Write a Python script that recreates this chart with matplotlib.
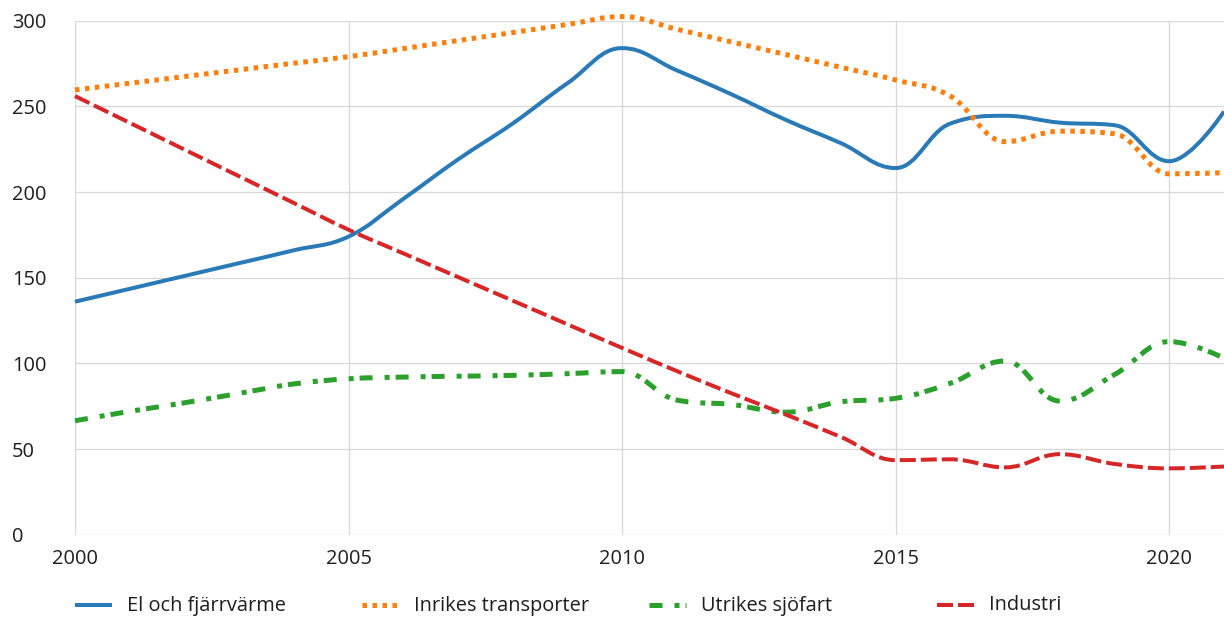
import matplotlib
matplotlib.use("Agg")
import matplotlib.pyplot as plt
from matplotlib.path import Path
from matplotlib.patches import PathPatch
from matplotlib.lines import Line2D

plt.rcParams['font.family'] = ['Open Sans', 'DejaVu Sans']

years = list(range(2000, 2022))
el_fjarrvarme = [136, 143.5, 151, 158.5, 166, 174, 196, 219, 240, 263.5, 284,
                 271, 257, 242, 228.5, 214, 240, 244.5, 240.5, 239, 218, 247]
inrikes_transporter = [259.6, 263.5, 267.4, 271.3, 275.2, 279, 283.7, 288.4, 293.1, 297.8, 302.4,
                       295, 287.6, 280.2, 272.8, 265.4, 256, 229.4, 235.5, 234, 210.6, 211.3]
utrikes_sjofart = [66.5, 72, 77, 82.5, 88, 91, 92, 92.5, 93, 94, 95.2,
                   78.6, 76, 71.5, 77.6, 79.6, 88.4, 101.4, 78, 93.5, 112.7, 103]
industri = [256, 240.4, 224.8, 209.2, 193.6, 178, 164.2, 150.4, 136.6, 122.8, 109,
            95.5, 82.5, 70, 57, 43.5, 44, 39.3, 47, 41.3, 38.7, 39.8]

series_names = ["El och fjärrvärme", "Inrikes transporter", "Utrikes sjöfart", "Industri"]
x_ticks = [2000, 2005, 2010, 2015, 2020]
y_ticks = [0, 50, 100, 150, 200, 250, 300]

PX = 0.72  # points per pixel at dpi 100
styles = [
    dict(color='#2a7ab8', lw=4.0 * PX, ls='-'),
    dict(color='#ff7f0e', lw=5.0 * PX, ls=(0, (0.9, 1.1))),
    dict(color='#2ca02c', lw=5.0 * PX, ls=(0, (2.6, 2.4, 1.0, 1.2))),
    dict(color='#d62728', lw=4.0 * PX, ls=(0, (4.0, 1.25))),
]


def spline_path(xs, ys, smoothing=1.5):
    """Bezier path with spline-style control points through the data points."""
    n = len(xs)
    denom = smoothing + 1
    left = [(xs[i], ys[i]) for i in range(n)]
    right = [(xs[i], ys[i]) for i in range(n)]
    for i in range(1, n - 1):
        px, py = xs[i], ys[i]
        lx, ly = xs[i - 1], ys[i - 1]
        nx, ny = xs[i + 1], ys[i + 1]
        lcx = (smoothing * px + lx) / denom
        lcy = (smoothing * py + ly) / denom
        rcx = (smoothing * px + nx) / denom
        rcy = (smoothing * py + ny) / denom
        corr = 0
        if rcx != lcx:
            corr = ((rcy - lcy) * (rcx - px)) / (rcx - lcx) + py - rcy
        lcy += corr
        rcy += corr
        if lcy > ly and lcy > py:
            lcy = max(ly, py); rcy = 2 * py - lcy
        elif lcy < ly and lcy < py:
            lcy = min(ly, py); rcy = 2 * py - lcy
        if rcy > ny and rcy > py:
            rcy = max(ny, py); lcy = 2 * py - rcy
        elif rcy < ny and rcy < py:
            rcy = min(ny, py); lcy = 2 * py - rcy
        left[i] = (lcx, lcy)
        right[i] = (rcx, rcy)
    verts = [(xs[0], ys[0])]
    codes = [Path.MOVETO]
    for i in range(1, n):
        verts += [right[i - 1], left[i], (xs[i], ys[i])]
        codes += [Path.CURVE4] * 3
    return Path(verts, codes)


W, H = 1224, 618
fig = plt.figure(figsize=(W / 100, H / 100), dpi=100)
ax = fig.add_axes([75 / W, 1 - 534.7 / H, (W - 75) / W, (534.7 - 20.7) / H])
ax.set_xlim(2000, 2021)
ax.set_ylim(0, 300)

for s in ax.spines.values():
    s.set_visible(False)

grid_color = '#d8d8d8'
ax.set_xticks(x_ticks)
ax.set_yticks(y_ticks)
ax.grid(True, color=grid_color, lw=1.3 * PX)
ax.set_axisbelow(True)
ax.tick_params(axis='both', length=0, labelsize=14.4, labelcolor='#1e1e1e')
ax.tick_params(axis='y', pad=63 * PX)
ax.tick_params(axis='x', pad=10.5)
for lab in ax.get_yticklabels():
    lab.set_horizontalalignment('left')
ax.set_xticklabels([str(t) for t in x_ticks])

all_series = [el_fjarrvarme, inrikes_transporter, utrikes_sjofart, industri]
for vals, st in zip(all_series, styles):
    path = spline_path(years, vals)
    patch = PathPatch(path, fill=False, edgecolor=st['color'], lw=st['lw'],
                      linestyle=st['ls'], capstyle='butt', joinstyle='round',
                      zorder=3, clip_on=False)
    ax.add_patch(patch)

# legend
leg_x = [75, 362, 649, 937]
leg_y = 1 - 605 / H
for name, st, x0 in zip(series_names, styles, leg_x):
    ln = Line2D([x0 / W, (x0 + 37) / W], [leg_y, leg_y], transform=fig.transFigure,
                color=st['color'], lw=st['lw'], linestyle=st['ls'],
                dash_capstyle='butt', solid_capstyle='butt')
    fig.add_artist(ln)
    fig.text((x0 + 52) / W, 1 - 610.5 / H, name, fontsize=14.4, color='#1e1e1e',
             ha='left', va='baseline')

fig.savefig('out.png', dpi=100)
